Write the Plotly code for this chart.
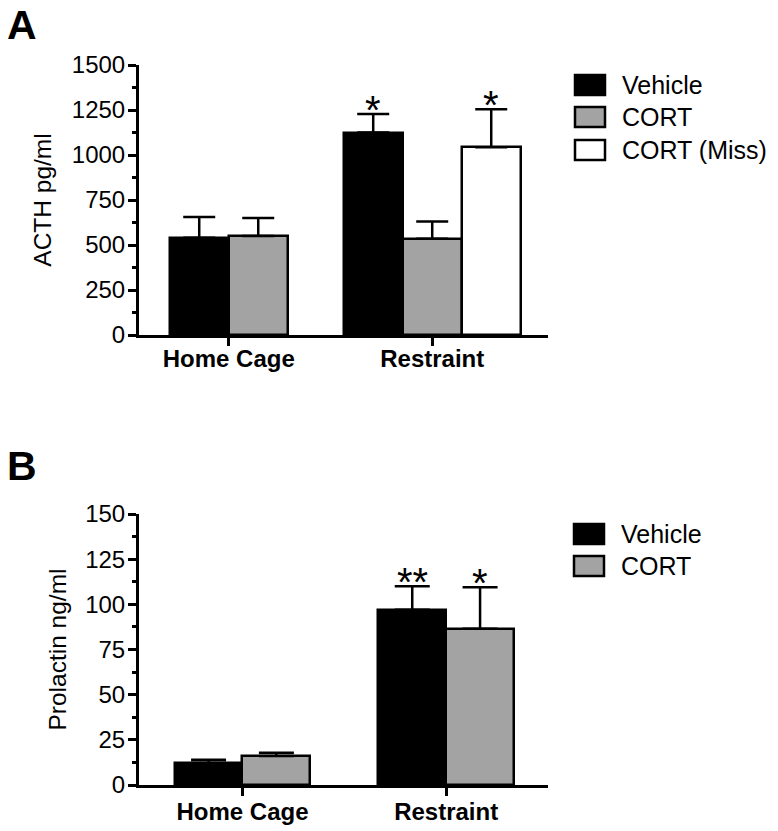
import plotly.graph_objects as go

# ---------------- data ----------------
categories = ["Home Cage", "Restraint"]

acth_names = ["Vehicle", "CORT", "CORT (Miss)"]
acth_vehicle = [540, 1125]
acth_vehicle_sem = [116, 103]
acth_cort = [550, 535]
acth_cort_sem = [100, 95]
acth_miss = [None, 1043]
acth_miss_sem = [None, 211]
acth_vehicle_sig = ["", "*"]
acth_cort_sig = ["", ""]
acth_miss_sig = ["", "*"]

prl_names = ["Vehicle", "CORT"]
prl_vehicle = [12.3, 97]
prl_vehicle_sem = [1.7, 13]
prl_cort = [16.1, 86.5]
prl_cort_sem = [1.8, 23]
prl_vehicle_sig = ["", "**"]
prl_cort_sig = ["", "*"]

acth_ticks = [0, 250, 500, 750, 1000, 1250, 1500]
prl_ticks = [0, 25, 50, 75, 100, 125, 150]

colors = ["#000000", "#a3a3a3", "#ffffff"]

FONT = "Arial, Liberation Sans, sans-serif"
FW, FH = 778, 831


def fx(p):
    return p / FW


def fy(p):
    return 1 - p / FH


fig = go.Figure()


def positions(series_list, width):
    """x positions of bars, groups centred on the category index."""
    out = [[None] * len(categories) for _ in series_list]
    for ci in range(len(categories)):
        present = [si for si, s in enumerate(series_list) if s[ci] is not None]
        n = len(present)
        for k, si in enumerate(present):
            out[si][ci] = ci + (k - (n - 1) / 2) * width
    return out


def add_panel(names, means, sems, sigs, width, xa, ya, capw):
    xs = positions(means, width)
    for si, name in enumerate(names):
        px = [x for x, m in zip(xs[si], means[si]) if m is not None]
        py = [m for m in means[si] if m is not None]
        pe = [e for e in sems[si] if e is not None]
        fig.add_trace(go.Bar(
            x=px, y=py, width=width, name=name, showlegend=False,
            marker=dict(color=colors[si], line=dict(color="black", width=2.5)),
            error_y=dict(type="data", symmetric=False, array=pe,
                         arrayminus=[0] * len(pe), color="black",
                         thickness=2.5, width=capw),
            xaxis=xa, yaxis=ya,
        ))
        for x, m, e, s in zip(xs[si], means[si], sems[si], sigs[si]):
            if m is not None and s:
                fig.add_annotation(x=x, y=m + e, xref=xa, yref=ya, text=s,
                                   showarrow=False, yanchor="bottom", yshift=-20,
                                   font=dict(family=FONT, size=40, color="black"))


add_panel(acth_names, [acth_vehicle, acth_cort, acth_miss],
          [acth_vehicle_sem, acth_cort_sem, acth_miss_sem],
          [acth_vehicle_sig, acth_cort_sig, acth_miss_sig], 0.29, "x", "y", 16)
add_panel(prl_names, [prl_vehicle, prl_cort],
          [prl_vehicle_sem, prl_cort_sem],
          [prl_vehicle_sig, prl_cort_sig], 0.333, "x2", "y2", 17.5)

xdom = [fx(139), fx(548)]
axis_common = dict(showline=True, linecolor="black", linewidth=3,
                   ticks="outside", tickcolor="black", tickwidth=2.5,
                   showgrid=False, zeroline=False, mirror=False, automargin=False)

fig.update_layout(
    width=FW, height=FH, margin=dict(l=0, r=0, t=0, b=0, autoexpand=False),
    paper_bgcolor="white", plot_bgcolor="white",
    font=dict(family=FONT, color="black"),
    bargap=0,
    xaxis=dict(domain=xdom, anchor="y", range=[-0.441, 1.569],
               tickvals=list(range(len(categories))),
               ticktext=["<b>%s</b>" % c for c in categories],
               ticklen=8, ticklabelstandoff=-8, tickfont=dict(size=24), **axis_common),
    yaxis=dict(domain=[fy(335), fy(65)], anchor="x", range=[0, 1500],
               tickvals=acth_ticks, ticklen=8, ticklabelstandoff=-2,
               tickfont=dict(size=24),
               minor=dict(dtick=125, ticklen=4, tickcolor="black", tickwidth=2.5,
                          ticks="outside"),
               title=dict(text="ACTH pg/ml", font=dict(size=24.5), standoff=14),
               **axis_common),
    xaxis2=dict(domain=xdom, anchor="y2", range=[-0.508, 1.5],
                tickvals=list(range(len(categories))),
                ticktext=["<b>%s</b>" % c for c in categories],
                ticklen=8, ticklabelstandoff=-5, tickfont=dict(size=24), **axis_common),
    yaxis2=dict(domain=[fy(785), fy(514)], anchor="x2", range=[0, 150],
                tickvals=prl_ticks, ticklen=8, ticklabelstandoff=-2,
                tickfont=dict(size=24),
                minor=dict(dtick=12.5, ticklen=4, tickcolor="black", tickwidth=2.5,
                           ticks="outside"),
                title=dict(text="Prolactin ng/ml", font=dict(size=24.5), standoff=12),
                **axis_common),
)

# panel letters
fig.add_annotation(x=fx(5), y=1, xref="paper", yref="paper", text="<b>A</b>",
                   showarrow=False, xanchor="left", yanchor="top",
                   font=dict(family=FONT, size=41, color="black"))
fig.add_annotation(x=fx(5), y=fy(466), xref="paper", yref="paper", text="<b>B</b>",
                   showarrow=False, xanchor="left", yanchor="middle",
                   font=dict(family=FONT, size=41, color="black"))


# manual legends (boxes + labels)
def add_legend(names, box_x, text_x, centers):
    for si, (name, cy) in enumerate(zip(names, centers)):
        fig.add_shape(type="rect", xref="paper", yref="paper",
                      x0=fx(box_x), x1=fx(box_x + 30),
                      y0=fy(cy + 10), y1=fy(cy - 10),
                      fillcolor=colors[si], line=dict(color="black", width=2.5))
        fig.add_annotation(x=fx(text_x), y=fy(cy), xref="paper", yref="paper",
                           text=name, showarrow=False, xanchor="left", yanchor="middle",
                           font=dict(family=FONT, size=25, color="black"))


add_legend(acth_names, 575, 620, [85, 117, 150])
add_legend(prl_names, 574, 619, [534, 566])

# remove the default page margin so the figure fills the window exactly
fig.write_html("out.html", config={"displayModeBar": False},
               post_script="document.body.style.margin='0';")
